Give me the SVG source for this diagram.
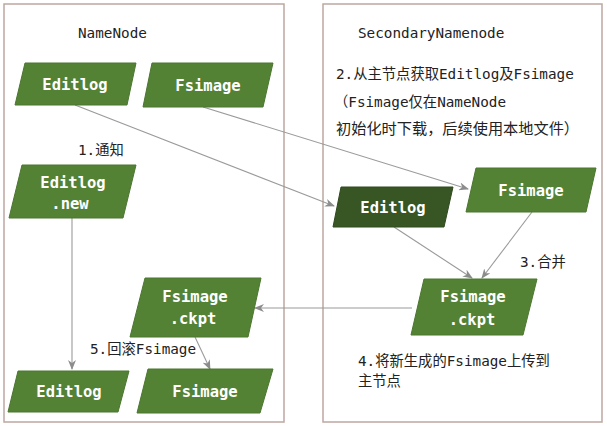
<svg xmlns="http://www.w3.org/2000/svg" width="607" height="426" viewBox="0 0 607 426">
<defs>
<marker id="ah" markerWidth="10" markerHeight="8" refX="9" refY="4" orient="auto" markerUnits="userSpaceOnUse">
<path d="M0,0 L10,4 L0,8 L3,4 Z" fill="#8c8c8c"/>
</marker>
</defs>
<style>
.frame{fill:#fff;stroke:#bfa6a2;stroke-width:1.5}
.n{fill:#548235;stroke:#4a762e;stroke-width:1}
.d{fill:#375623;stroke:#2f4a1e;stroke-width:1}
.nt{font-family:"DejaVu Sans Mono","Liberation Mono",monospace;font-weight:bold;font-size:15.5px;fill:#fff;text-anchor:middle}
.lb{font-family:"DejaVu Sans Mono","Noto Sans CJK SC",monospace;font-size:14.3px;fill:#222}
.zh{font-size:15.2px}
.c{stroke:#9a9a9a;stroke-width:1.1;fill:none;marker-end:url(#ah)}
</style>
<rect width="607" height="426" fill="#fff"/>
<rect class="frame" x="4" y="4" width="280" height="418"/>
<rect class="frame" x="323" y="4" width="279" height="418"/>
<text class="lb" x="78" y="38">NameNode</text>
<text class="lb" x="358" y="38">SecondaryNamenode</text>
<text class="lb" x="336" y="79">2.从主节点获取Editlog及Fsimage</text>
<text class="lb" x="334" y="107">（Fsimage仅在NameNode</text>
<text class="lb zh" x="336" y="134">初始化时下载，后续使用本地文件）</text>
<text class="lb" x="78" y="155">1.通知</text>
<text class="lb" x="520" y="267">3.合并</text>
<text class="lb" x="90" y="354">5.回滚Fsimage</text>
<text class="lb" x="358" y="366">4.将新生成的Fsimage上传到</text>
<text class="lb" x="358" y="386">主节点</text>
<g id="connectors">
<line class="c" x1="75" y1="105" x2="334" y2="206"/>
<line class="c" x1="203" y1="107" x2="468" y2="189"/>
<line class="c" x1="394" y1="227" x2="472" y2="278"/>
<line class="c" x1="532" y1="212" x2="482" y2="278"/>
<line class="c" x1="412" y1="308" x2="255" y2="308"/>
<line class="c" x1="72" y1="218" x2="72" y2="369"/>
<line class="c" x1="195" y1="337" x2="210" y2="369"/>
</g>
<g id="nn-editlog"><polygon class="n" points="25,63 136,63 127,105 15,105"/><text class="nt" x="75" y="90">Editlog</text></g>
<g id="nn-fsimage"><polygon class="n" points="152,63 273,63 263,107 143,107"/><text class="nt" x="208" y="91">Fsimage</text></g>
<g id="nn-editlog-new"><polygon class="n" points="22,165 136,165 123,218 9,218"/><text class="nt" x="73" y="188">Editlog</text><text class="nt" x="70" y="209">.new</text></g>
<g id="nn-ckpt"><polygon class="n" points="145,278 261,278 248,337 130,337"/><text class="nt" x="195" y="302">Fsimage</text><text class="nt" x="193" y="324">.ckpt</text></g>
<g id="nn-editlog-b"><polygon class="n" points="18,371 129,371 118,412 8,412"/><text class="nt" x="69" y="397">Editlog</text></g>
<g id="nn-fsimage-b"><polygon class="n" points="148,369 273,369 260,413 137,413"/><text class="nt" x="205" y="397">Fsimage</text></g>
<g id="sn-editlog"><polygon class="d" points="341,187 453,187 444,227 333,227"/><text class="nt" x="393" y="213">Editlog</text></g>
<g id="sn-fsimage"><polygon class="n" points="476,168 596,168 586,212 466,212"/><text class="nt" x="531" y="196">Fsimage</text></g>
<g id="sn-ckpt"><polygon class="n" points="424,279 537,279 523,335 411,335"/><text class="nt" x="473" y="302">Fsimage</text><text class="nt" x="472" y="325">.ckpt</text></g>
</svg>
